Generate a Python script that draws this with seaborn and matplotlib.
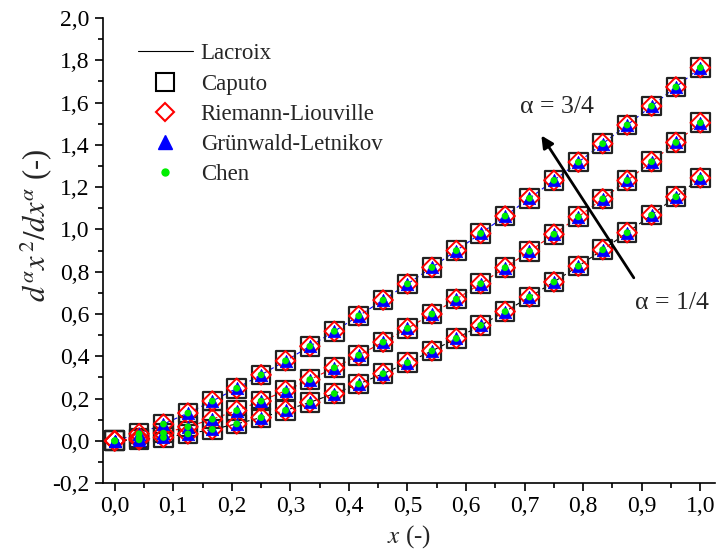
import numpy as np
import pandas as pd
import seaborn as sns
import matplotlib
matplotlib.use("Agg")
import matplotlib.pyplot as plt
from matplotlib.lines import Line2D
from matplotlib.ticker import MultipleLocator, FuncFormatter

# Grid of evaluation points and the fractional derivative of x^2 for three orders
x = [0.0, 0.0417, 0.0833, 0.125, 0.1667, 0.2083, 0.25, 0.2917, 0.3333, 0.375,
     0.4167, 0.4583, 0.5, 0.5417, 0.5833, 0.625, 0.6667, 0.7083, 0.75, 0.7917,
     0.8333, 0.875, 0.9167, 0.9583, 1.0]
alpha_14 = [0.0, 0.0048, 0.0161, 0.0327, 0.0541, 0.0799, 0.1099, 0.1440, 0.1819,
            0.2235, 0.2687, 0.3175, 0.3697, 0.4253, 0.4842, 0.5463, 0.6116,
            0.6801, 0.7516, 0.8262, 0.9038, 0.9844, 1.0679, 1.1543, 1.2435]
alpha_12 = [0.0, 0.0128, 0.0362, 0.0665, 0.1024, 0.1431, 0.1881, 0.2370, 0.2895,
            0.3455, 0.4047, 0.4668, 0.5319, 0.5998, 0.6703, 0.7434, 0.8189,
            0.8969, 0.9772, 1.0598, 1.1445, 1.2314, 1.3204, 1.4115, 1.5045]
alpha_34 = [0.0, 0.0332, 0.0790, 0.1312, 0.1880, 0.2485, 0.3121, 0.3784, 0.4472,
            0.5182, 0.5909, 0.6657, 0.7422, 0.8203, 0.8999, 0.9810, 1.0633,
            1.1472, 1.2320, 1.3182, 1.4055, 1.4939, 1.5833, 1.6738, 1.7652]
orders = ["1/4", "1/2", "3/4"]
line_colors = ["black", "red", "blue"]

df = pd.concat([
    pd.DataFrame({"x": x, "y": vals, "order": o})
    for o, vals in zip(orders, [alpha_14, alpha_12, alpha_34])
], ignore_index=True)

sns.set_style("ticks")
plt.rcParams["font.family"] = ["Liberation Serif", "DejaVu Serif"]
plt.rcParams["mathtext.fontset"] = "stix"

fig = plt.figure(figsize=(7.2, 5.54), dpi=100)
ax = fig.add_axes([0.143, 0.128, 0.850, 0.8395])

# Lacroix analytical curves (dashed, one colour per order)
sns.lineplot(data=df, x="x", y="y", hue="order", palette=line_colors,
             hue_order=orders, linestyle=(0, (4, 3)), linewidth=0.8,
             legend=False, ax=ax, zorder=1)

# Numerical schemes, drawn on top of each other
sns.scatterplot(data=df, x="x", y="y", marker="s", s=180, facecolor="none",
                edgecolor="#222222", linewidth=1.6, legend=False, ax=ax, zorder=2)
sns.scatterplot(data=df, x="x", y="y", marker="D", s=100, facecolor="none",
                edgecolor="red", linewidth=1.4, legend=False, ax=ax, zorder=3)
sns.scatterplot(data=df, x="x", y="y", marker="^", s=80, color="blue",
                edgecolor="blue", linewidth=0.5, legend=False, ax=ax, zorder=4)
sns.scatterplot(data=df, x="x", y="y", marker="o", s=24, color="#00ee00",
                edgecolor="none", legend=False, ax=ax, zorder=5)

ax.set_xlim(-0.02, 1.025)
ax.set_ylim(-0.2, 2.0)
ax.xaxis.set_major_locator(MultipleLocator(0.1))
ax.xaxis.set_minor_locator(MultipleLocator(0.05))
ax.yaxis.set_major_locator(MultipleLocator(0.2))
ax.yaxis.set_minor_locator(MultipleLocator(0.1))
comma = FuncFormatter(lambda v, p: f"{v:.1f}".replace(".", ",").replace("-0,0", "0,0"))
ax.xaxis.set_major_formatter(comma)
ax.yaxis.set_major_formatter(comma)
ax.tick_params(which="major", direction="out", length=6, width=1.2,
               labelsize=17, color="black", labelcolor="black")
ax.tick_params(which="minor", direction="out", length=3.5, width=1.2, color="black")
for side in ["top", "right"]:
    ax.spines[side].set_visible(False)
for side in ["left", "bottom"]:
    ax.spines[side].set_linewidth(1.2)
    ax.spines[side].set_color("black")

ax.set_xlabel(r"$x$ (-)", fontsize=18, labelpad=4)
ax.set_ylabel(r"$d^{\alpha}x^{\,2}/dx^{\alpha}$ (-)", fontsize=22)
ax.yaxis.set_label_coords(-0.08, 0.555)

# Arrow showing the increasing order
ax.annotate("", xy=(0.726, 1.455), xytext=(0.889, 0.76),
            arrowprops=dict(arrowstyle="-|>", color="black", lw=2,
                            mutation_scale=18), zorder=6)
ax.text(0.756, 1.578, "α = 3/4", fontsize=18.5, ha="center", va="center")
ax.text(0.952, 0.651, "α = 1/4", fontsize=18.5, ha="center", va="center")

handles = [
    Line2D([], [], color="black", lw=0.8),
    Line2D([], [], marker="s", ls="none", ms=13, mfc="none", mec="black", mew=1.5),
    Line2D([], [], marker="D", ls="none", ms=9.5, mfc="none", mec="red", mew=1.5),
    Line2D([], [], marker="^", ls="none", ms=9.5, color="blue"),
    Line2D([], [], marker="o", ls="none", ms=5, color="#00ee00"),
]
labels = ["Lacroix", "Caputo", "Riemann-Liouville", "Grünwald-Letnikov", "Chen"]
ax.legend(handles, labels, loc="upper left", bbox_to_anchor=(0.023, 0.99),
          frameon=False, fontsize=16.5, handlelength=2.4, labelspacing=0.4,
          handletextpad=0.35)

fig.savefig("out.png", dpi=100)
